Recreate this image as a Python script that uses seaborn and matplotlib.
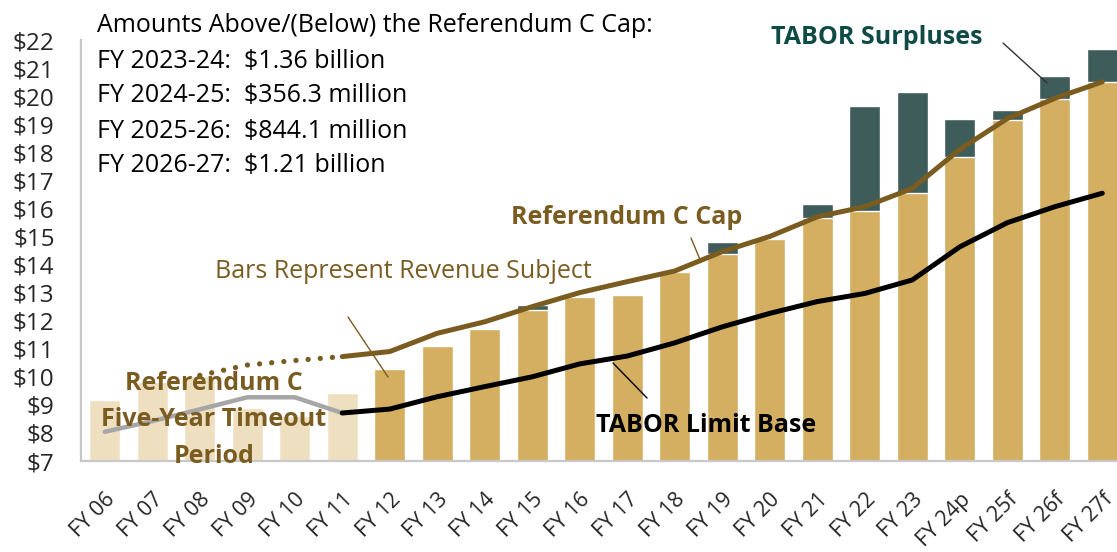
import numpy as np
import pandas as pd
import matplotlib
matplotlib.use("Agg")
import matplotlib.pyplot as plt
from matplotlib.lines import Line2D
import seaborn as sns

categories = ["FY 06", "FY 07", "FY 08", "FY 09", "FY 10", "FY 11", "FY 12", "FY 13",
              "FY 14", "FY 15", "FY 16", "FY 17", "FY 18", "FY 19", "FY 20", "FY 21",
              "FY 22", "FY 23", "FY 24p", "FY 25f", "FY 26f", "FY 27f"]
revenue = [9.17, 9.80, 10.03, 8.90, 8.60, 9.43, 10.28, 11.10, 11.70, 12.38, 12.85, 12.90,
           13.72, 14.37, 14.91, 15.65, 15.92, 16.56, 17.82, 19.15, 19.89, 20.50]
surplus = [0, 0, 0, 0, 0, 0, 0, 0, 0, 0.17, 0, 0, 0.04, 0.42, 0, 0.51, 3.73, 3.57,
           1.35, 0.35, 0.83, 1.19]
timeout_years = ["FY 06", "FY 07", "FY 08", "FY 09", "FY 10", "FY 11"]

refc_dotted_idx = [2, 3, 4, 5]
refc_dotted = [10.05, 10.42, 10.58, 10.72]
refc_idx = list(range(5, 22))
refc_cap = [10.72, 10.90, 11.55, 11.96, 12.50, 13.00, 13.39, 13.77, 14.46, 15.00, 15.70,
            16.06, 16.71, 18.10, 19.20, 19.92, 20.51]
base_grey_idx = list(range(0, 6))
base_grey = [8.04, 8.42, 8.84, 9.27, 9.27, 8.71]
base_idx = list(range(5, 22))
tabor_base = [8.71, 8.85, 9.29, 9.65, 10.00, 10.46, 10.74, 11.21, 11.78, 12.26, 12.68,
              12.97, 13.45, 14.63, 15.49, 16.06, 16.54]
y_ticks = list(range(7, 23))

BEIGE = "#EEDFC0"
GOLD = "#D4AF62"
DARK = "#3E5C5A"
BROWN = "#7A5C21"
GREY = "#A6A6A6"
SURP_TXT = "#0E4B45"

sns.set_theme(style="white")
plt.rcParams["font.family"] = ["Open Sans", "DejaVu Sans"]

W, H = 1117, 552
fig = plt.figure(figsize=(W / 100, H / 100), dpi=100)
ax = fig.add_axes([81 / W, 91 / H, (W - 81) / W, (461 - 40) / H])

totals = [r + s for r, s in zip(revenue, surplus)]
df = pd.DataFrame({"cat": categories, "total": totals, "rev": revenue})
bar_colors = [BEIGE if c in timeout_years else GOLD for c in categories]

sns.barplot(data=df, x="cat", y="total", color=DARK, width=0.65, saturation=1,
            ax=ax, order=categories)
sns.barplot(data=df, x="cat", y="rev", hue="cat", palette=bar_colors, width=0.65,
            saturation=1, ax=ax, order=categories, hue_order=categories,
            legend=False, dodge=False)

sns.lineplot(x=base_grey_idx, y=base_grey, color=GREY, lw=3.2, ax=ax, zorder=4)
sns.lineplot(x=base_idx, y=tabor_base, color="black", lw=3.6, ax=ax, zorder=5)
sns.lineplot(x=refc_dotted_idx, y=refc_dotted, color=BROWN, lw=3.8, ax=ax, zorder=5,
             linestyle=(0, (0.01, 2.3)))
ax.lines[-1].set_dash_capstyle("round")
sns.lineplot(x=refc_idx, y=refc_cap, color=BROWN, lw=3.6, ax=ax, zorder=6)
for ln in ax.lines:
    ln.set_solid_capstyle("round")

ax.set_xlim(-0.5, 21.31)
ax.set_ylim(7, 22)
ax.set_yticks(y_ticks)
ax.set_yticklabels([f"${v}" for v in y_ticks], fontsize=17.5)
ax.set_xticks(range(len(categories)))
ax.set_xticklabels(categories, rotation=45, ha="right", rotation_mode="anchor",
                   fontsize=15.5)
ax.tick_params(axis="y", length=0, pad=19)
ax.tick_params(axis="x", length=0, pad=20)
ax.set_xlabel("")
ax.set_ylabel("")
for s in ["top", "right"]:
    ax.spines[s].set_visible(False)
for s in ["left", "bottom"]:
    ax.spines[s].set_color("#C8C8C8")
    ax.spines[s].set_linewidth(1.6)


def fx(p):
    return p / W


def fy(p):
    return 1 - p / H


# summary block
lines_txt = ["Amounts Above/(Below) the Referendum C Cap:",
             "FY 2023-24:  $1.36 billion",
             "FY 2024-25:  $356.3 million",
             "FY 2025-26:  $844.1 million",
             "FY 2026-27:  $1.21 billion"]
for i, t in enumerate(lines_txt):
    fig.text(fx(97), fy(26 + i * 35), t, fontsize=18, color="black",
             ha="left", va="center")

fig.text(fx(877), fy(37), "TABOR Surpluses", fontsize=18, fontweight="bold",
         color=SURP_TXT, ha="center", va="center")
fig.text(fx(627), fy(217), "Referendum C Cap", fontsize=18, fontweight="bold",
         color=BROWN, ha="center", va="center")
fig.text(fx(403), fy(272), "Bars Represent Revenue Subject", fontsize=18,
         color=BROWN, ha="center", va="center")
fig.text(fx(706), fy(425), "TABOR Limit Base", fontsize=18, fontweight="bold",
         color="black", ha="center", va="center")
fig.text(fx(214), fy(420), "Referendum C\nFive-Year Timeout\nPeriod", fontsize=18,
         fontweight="bold", color=BROWN, ha="center", va="center",
         linespacing=1.6, zorder=10)

leaders = [((1003, 43), (1047, 83), "#333333"),
           ((691, 238), (701, 262), BROWN),
           ((348, 317), (388, 377), BROWN),
           ((613, 363), (647, 398), "black")]
for (x0, y0), (x1, y1), c in leaders:
    fig.add_artist(Line2D([fx(x0), fx(x1)], [fy(y0), fy(y1)], color=c, lw=1.0,
                          transform=fig.transFigure, zorder=10))

fig.savefig("out.png", dpi=100)
